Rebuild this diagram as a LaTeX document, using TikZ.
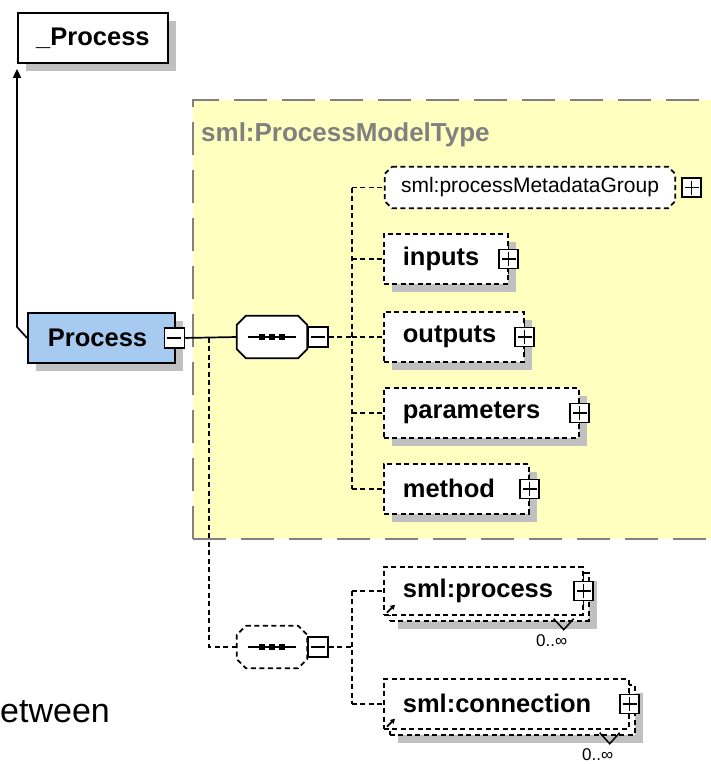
\documentclass[tikz,border=0pt]{standalone}
\usepackage{fontspec}
\setmainfont{Liberation Sans}
\usetikzlibrary{shadows,arrows.meta}

\definecolor{panelfill}{RGB}{255,255,192}
\definecolor{panelline}{RGB}{128,128,128}
\definecolor{shadegray}{RGB}{192,192,192}
\definecolor{elemblue}{RGB}{166,202,240}

\pgfdeclarelayer{panel}
\pgfdeclarelayer{under}
\pgfsetlayers{panel,under,main}

% outline of a node's box with all four corners cut off by #2
\newcommand\cutbox[2]{([xshift=#2]#1.north west) -- ([xshift=-#2]#1.north east)
  -- ([yshift=-#2]#1.north east) -- ([yshift=#2]#1.south east)
  -- ([xshift=-#2]#1.south east) -- ([xshift=#2]#1.south west)
  -- ([yshift=#2]#1.south west) -- ([yshift=-#2]#1.north west) -- cycle}

\tikzset{
  boldtext/.style={font=\fontsize{25.5}{30}\selectfont\bfseries},
  smalltext/.style={font=\fontsize{21}{25}\selectfont},
  shade/.style={drop shadow={shadow xshift=8pt,shadow yshift=-8pt,fill=shadegray,opacity=1}},
  dline/.style={line width=1.7pt,dash pattern=on 5pt off 3.5pt},
  sline/.style={line width=1.7pt},
  elem/.style={draw,dline,fill=white,boldtext,minimum height=50pt,
    inner xsep=19pt,inner ysep=0pt,align=left,anchor=north west},
  elemback/.style={draw,dline,fill=white,minimum height=48pt,inner sep=0pt,anchor=north west},
  octo/.style={rectangle,minimum width=70pt,minimum height=42pt,inner sep=0pt},
  minusbox/.style={draw,line width=1.7pt,fill=white,minimum size=20pt,inner sep=0pt,
    path picture={\draw[line width=1.5pt] ([xshift=-7pt]path picture bounding box.center) -- ++(14pt,0pt);}},
  plusbox/.style={draw,line width=1.7pt,fill=white,minimum size=19pt,inner sep=0pt,
    path picture={\draw[line width=1.5pt] ([xshift=-7pt]path picture bounding box.center) -- ++(14pt,0pt)
      ([yshift=-7pt]path picture bounding box.center) -- ++(0pt,14pt);}},
  occ/.style={font=\fontsize{17}{20}\selectfont,inner sep=0pt},
  refmark/.style={line width=1.8pt,-{Triangle[length=4.5pt,width=5pt]}},
  panelborder/.style={draw=panelline,line width=2.2pt,dash pattern=on 33pt off 15pt},
}

\begin{document}
\begin{tikzpicture}[x=1pt,y=-1pt]
\useasboundingbox (0,0) rectangle (711,764);

% page and complex type panel
\begin{pgfonlayer}{panel}
\fill[white] (0,0) rectangle (711,764);
\path[fill=panelfill] (193,100) rectangle (740,539);
\draw[panelborder] (193,539) -- (193,100) -- (740,100);
\draw[panelborder] (193,539) -- (740,539);
\end{pgfonlayer}
\node[anchor=base west,inner sep=0pt,text=panelline,font=\fontsize{26}{30}\selectfont\bfseries]
  (ptitle) at (201,141) {sml:ProcessModelType};

% base type and the element itself
\node[draw,line width=1.9pt,fill=white,shade,boldtext,minimum width=150pt,minimum height=50pt,
  inner sep=0pt,anchor=north west] (absproc) at (17,12) {\_Process};
\node[draw,line width=1.9pt,fill=elemblue,shade,boldtext,minimum width=147pt,minimum height=50pt,
  inner xsep=20pt,inner ysep=0pt,text width=107pt,align=left,anchor=north west]
  (proc) at (27,312) {Process};
\node[minusbox] (procminus) at ([xshift=-1.5pt]proc.east) {};

% sequences: octagons with the sequence icon
\node[octo] (seq1) at (272,337) {};
\node[octo] (seq2) at (272,647) {};
\begin{pgfonlayer}{under}
\foreach \n in {seq1,seq2}
  \fill[shadegray,shift={(8pt,-8pt)}] \cutbox{\n}{9pt};
\filldraw[fill=white,sline] \cutbox{seq1}{9pt};
\filldraw[fill=white,dline] \cutbox{seq2}{9pt};
\end{pgfonlayer}
\foreach \n in {seq1,seq2}{
  \draw[line width=1.5pt] ([xshift=-24pt]\n.center) -- ([xshift=24pt]\n.center);
  \foreach \dx in {-10,0,10}
    \fill ([xshift=\dx pt]\n.center) ++(-2.8pt,-2.8pt) rectangle ++(5.6pt,5.6pt);
}
\node[minusbox,anchor=west] (seq1minus) at (seq1.east) {};
\node[minusbox,anchor=west] (seq2minus) at (seq2.east) {};

% children of the first sequence
\node[smalltext,minimum width=290pt,minimum height=41pt,inner sep=0pt]
  (pmg) at (530,187.5) {sml:processMetadataGroup};
\begin{pgfonlayer}{under}
\fill[shadegray,shift={(8pt,-8pt)}] \cutbox{pmg}{7pt};
\filldraw[fill=white,dline] \cutbox{pmg}{7pt};
\end{pgfonlayer}
\node[plusbox,anchor=west] (pmgplus) at ([xshift=6pt]pmg.east) {};

\node[elem,shade,minimum width=124pt,text width=86pt] (inputs) at (383,233) {inputs};
\node[elem,shade,minimum width=140pt,text width=102pt] (outputs) at (383,311) {outputs};
\node[elem,shade,minimum width=195pt,text width=157pt] (parameters) at (383,387) {parameters};
\node[elem,shade,minimum width=145pt,text width=107pt] (method) at (383,463) {method};

% children of the second sequence (repeated elements)
\node[elemback,shade,minimum width=199pt] (sprocback) at (389,572) {};
\node[elem,minimum width=199pt,minimum height=48pt,text width=161pt] (sproc) at (383,566) {sml:process};
\node[elemback,shade,minimum width=245pt,minimum height=50pt] (sconnback) at (389,684) {};
\node[elem,minimum width=245pt,text width=207pt] (sconn) at (383,678) {sml:connection};

% expand buttons with their ticks
\foreach \n in {inputs,outputs,parameters,method,sproc,sconn}{
  \node[plusbox] (\n plus) at (\n.east) {};
  \draw[line width=1.5pt] (\n plus.north) -- ++(0pt,5pt) (\n plus.south) -- ++(0pt,-5pt);
}

% reference marks
\foreach \n in {sproc,sconn}
  \draw[refmark] ([xshift=4pt,yshift=3pt]\n.south west) -- ++(8pt,8pt);

% occurrence notches and labels
\foreach \n in {sprocback,sconnback}{
  \draw[line width=1.5pt] (\n.south east) ++(-36pt,3pt) -- ++(10pt,-11pt) -- ++(10pt,11pt);
  \node[occ] at ([xshift=-38pt,yshift=-19pt]\n.south east) {0..∞};
}

% connectors
\draw[line width=1.7pt,-{Triangle[length=9pt,width=8pt]},shorten >=5pt]
  (proc.west) -- ++(-10,-11) -- (absproc.south west);
\draw[sline] (procminus.east) -- (seq1.west);
\coordinate (split) at ([xshift=24pt]procminus.east);
\draw[dline] (split) |- (seq2.west);

\coordinate (bus1) at ([xshift=23pt]seq1minus.east);
\draw[dline] (seq1minus.east) -- (bus1);
\draw[dline] (bus1 |- pmg.west) -- (bus1 |- method.west);
\foreach \n in {pmg,inputs,outputs,parameters,method}
  \draw[dline] (bus1 |- \n.west) -- (\n.west);

\coordinate (bus2) at ([xshift=23pt]seq2minus.east);
\draw[dline] (seq2minus.east) -- (bus2);
\draw[dline] (bus2 |- sproc.west) -- (bus2 |- sconn.west);
\foreach \n in {sproc,sconn}
  \draw[dline] (bus2 |- \n.west) -- (\n.west);

% fragment of surrounding text
\node[anchor=base west,inner sep=0pt,font=\fontsize{34}{40}\selectfont] (fragment) at (0,722) {etween};
\end{tikzpicture}
\end{document}
